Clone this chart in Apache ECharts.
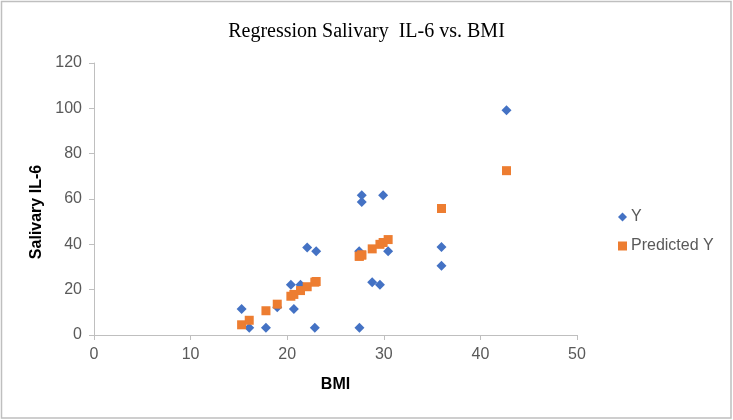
<!DOCTYPE html>
<html>
<head>
<meta charset="utf-8">
<script src="https://cdn.jsdelivr.net/npm/echarts@6/dist/echarts.min.js"></script>
<style>
html,body{margin:0;padding:0;background:#fff;}
#main{width:733px;height:420px;}
</style>
</head>
<body>
<div id="main"></div>
<script>
// BMI values (x)
var bmi = [15.28, 16.07, 17.8, 18.97, 20.38, 20.69, 21.38, 22.07, 22.86, 23.0, 27.45, 27.48, 27.72, 27.72, 28.8, 29.6, 29.93, 30.45, 35.97, 35.97, 42.7];
// Observed salivary IL-6 (Y)
var yObserved = [11.5, 3.2, 3.2, 12.2, 22.2, 11.5, 22.2, 38.6, 3.2, 37.0, 37.0, 3.2, 61.7, 58.7, 23.3, 22.2, 61.7, 37.0, 38.8, 30.5, 99.1];
// Predicted Y
var yPredicted = [4.5, 6.5, 10.7, 13.6, 17.1, 17.9, 19.6, 21.3, 23.3, 23.6, 34.7, 34.8, 35.3, 35.3, 38.0, 40.0, 40.8, 42.1, 55.8, 55.8, 72.5];
var seriesNames = ['Y', 'Predicted Y'];
var titleText = 'Regression Salivary  IL-6 vs. BMI';
var xAxisName = 'BMI';
var yAxisName = 'Salivary IL-6';

function pairs(xs, ys) {
  var out = [];
  for (var i = 0; i < xs.length; i++) out.push([xs[i], ys[i]]);
  return out;
}

var chart = echarts.init(document.getElementById('main'), null, {renderer: 'canvas'});
var axisColor = '#bfbfbf';
var labelColor = '#595959';
chart.setOption({
  animation: false,
  backgroundColor: '#ffffff',
  title: {
    text: titleText,
    left: 'center',
    top: 17,
    textStyle: {fontFamily: 'Liberation Serif', fontSize: 20, fontWeight: 'normal', color: '#000'}
  },
  legend: {
    orient: 'vertical',
    left: 613,
    top: 204,
    itemGap: 13,
    itemWidth: 9,
    itemHeight: 9,
    textStyle: {fontFamily: 'Liberation Sans', fontSize: 16, color: labelColor, padding: [0,0,0,-1]},
    data: [
      {name: seriesNames[0], icon: 'diamond'},
      {name: seriesNames[1], icon: 'rect'}
    ]
  },
  grid: {left: 94, right: 156, top: 63, bottom: 85, containLabel: false},
  xAxis: {
    type: 'value',
    min: 0, max: 50, interval: 10,
    name: xAxisName,
    nameLocation: 'middle',
    nameGap: 42,
    nameTextStyle: {fontFamily: 'Liberation Sans', fontSize: 16, fontWeight: 'bold', color: '#000'},
    axisLine: {show: true, onZero: false, lineStyle: {color: axisColor, width: 1}},
    axisTick: {show: true, inside: false, length: 5, lineStyle: {color: axisColor}},
    axisLabel: {fontFamily: 'Liberation Sans', fontSize: 16, color: labelColor, margin: 12},
    splitLine: {show: false}
  },
  yAxis: {
    type: 'value',
    min: 0, max: 120, interval: 20,
    name: yAxisName,
    nameLocation: 'middle',
    nameGap: 48,
    nameRotate: 90,
    nameTextStyle: {fontFamily: 'Liberation Sans', fontSize: 16, fontWeight: 'bold', color: '#000', padding: [0, 26, 0, 0]},
    axisLine: {show: true, lineStyle: {color: axisColor, width: 1}},
    axisTick: {show: true, inside: false, length: 5, lineStyle: {color: axisColor}},
    axisLabel: {fontFamily: 'Liberation Sans', fontSize: 16, color: labelColor, margin: 12},
    splitLine: {show: false}
  },
  graphic: [{
    type: 'rect',
    shape: {x: 1.5, y: 1.5, width: 729.5, height: 416.5},
    style: {fill: 'none', stroke: '#bfbfbf', lineWidth: 1.5},
    silent: true,
    z: 100
  }],
  series: [
    {
      name: seriesNames[0],
      type: 'scatter',
      symbol: 'diamond',
      symbolSize: 10,
      itemStyle: {color: '#4472C4', opacity: 1},
      data: pairs(bmi, yObserved),
      z: 2
    },
    {
      name: seriesNames[1],
      type: 'scatter',
      symbol: 'rect',
      symbolSize: 9,
      itemStyle: {color: '#ED7D31', opacity: 1},
      data: pairs(bmi, yPredicted),
      z: 3
    }
  ]
});
</script>
</body>
</html>
